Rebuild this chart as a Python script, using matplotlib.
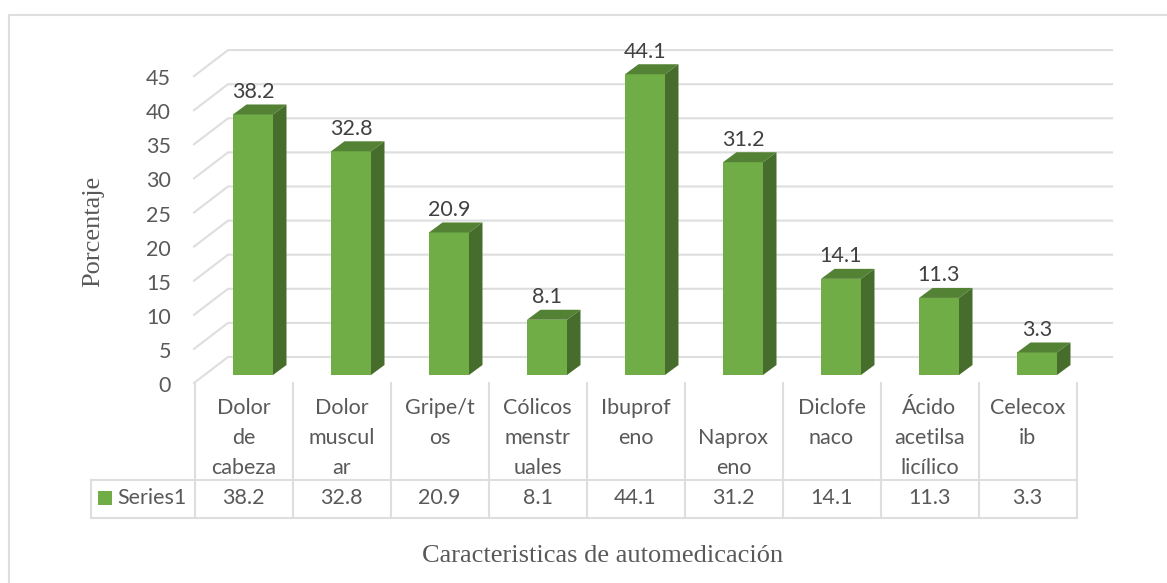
import matplotlib
matplotlib.use("Agg")
import matplotlib.pyplot as plt
from matplotlib.patches import Polygon, Rectangle

categories = [
    "Dolor\nde\ncabeza", "Dolor\nmuscul\nar", "Gripe/t\nos",
    "Cólicos\nmenstr\nuales", "Ibuprof\neno", "\nNaprox\neno",
    "Diclofe\nnaco", "Ácido\nacetilsa\nlicílico", "Celecox\nib",
]
values = [38.2, 32.8, 20.9, 8.1, 44.1, 31.2, 14.1, 11.3, 3.3]
y_ticks = [0, 5, 10, 15, 20, 25, 30, 35, 40, 45]
series_name = "Series1"
x_title = "Caracteristicas de automedicación"
y_title = "Porcentaje"

W, H = 1167, 583
STEP = 98.0      # px per category
UNIT = 6.82      # px per percent
X0 = 253.0       # px centre of first bar
Y0 = 375.0       # px of bar base

GRID = "#dedede"
TEXT = "#595959"
DARK = "#404040"
FRONT = "#70ad47"
TOP = "#548235"
SIDE = "#476d2c"
SANS = "Lato"
SERIF = "Liberation Serif"
FS = 15.5


def dx(px):
    return px / STEP


def dy(px):
    return px / UNIT


def to_x(px):
    return (px - X0) / STEP


def to_y(py):
    return (Y0 - py) / UNIT


fig = plt.figure(figsize=(W / 100, H / 100), dpi=100)
ax = fig.add_axes([0, 0, 1, 1])
ax.set_xlim(to_x(0), to_x(W))
ax.set_ylim(to_y(H), to_y(0))
ax.axis("off")

# outer frame, open on the right and bottom
ax.plot([to_x(8.5), to_x(8.5), to_x(1167)],
        [to_y(583), to_y(14.5), to_y(14.5)],
        color=GRID, lw=1.5, solid_capstyle="butt")

# gridlines on the side and back wall
front_left = to_x(194)
back_left = to_x(228)
back_right = to_x(1112)
front_base = to_y(383)
back_base = to_y(357)
for v in y_ticks:
    ax.plot([front_left, back_left, back_right],
            [front_base + v, back_base + v, back_base + v],
            color=GRID, lw=1.5, zorder=1, solid_joinstyle="miter")
    ax.text(to_x(171), front_base + v - dy(3), str(v), ha="right", va="center",
            fontsize=FS, color=TEXT, family=SANS)

# bars
half = dx(20)
off_x = dx(13.5)
off_y = dy(10)
for i, v in enumerate(values):
    l, r = i - half, i + half
    ax.add_patch(Rectangle((l, 0), 2 * half, v, fc=FRONT, ec="none", zorder=3))
    ax.add_patch(Polygon([(l, v), (r, v), (r + off_x, v + off_y), (l + off_x, v + off_y)],
                         fc=TOP, ec="none", zorder=3))
    ax.add_patch(Polygon([(r, 0), (r + off_x, off_y), (r + off_x, v + off_y), (r, v)],
                         fc=SIDE, ec="none", zorder=3))
    ax.text(i, v + dy(22.5), f"{v}", ha="center", va="center",
            fontsize=FS, color=DARK, family=SANS, zorder=4)

# data table
table_left = to_x(90.5)
col_left = to_x(194.5)
table_top = to_y(479.5)
table_bottom = to_y(517.5)
n = len(categories)
col_right = col_left + n
ax.plot([table_left, col_right], [table_top, table_top], color=GRID, lw=1.5)
ax.plot([table_left, col_right], [table_bottom, table_bottom], color=GRID, lw=1.5)
ax.plot([table_left, table_left], [table_top, table_bottom], color=GRID, lw=1.5)
for i in range(n + 1):
    ax.plot([col_left + i, col_left + i], [front_base, table_bottom], color=GRID, lw=1.5)

row_y = to_y(498)
for i, (cat, v) in enumerate(zip(categories, values)):
    cx = col_left + i + 0.5
    for k, line in enumerate(cat.split("\n")):
        ax.text(cx, to_y(408.5 + 29.5 * k), line, ha="center", va="center",
                fontsize=FS, color=TEXT, family=SANS)
    ax.text(cx, row_y, f"{v}", ha="center", va="center", fontsize=FS,
            color=TEXT, family=SANS)

# legend key
ax.add_patch(Rectangle((to_x(98), to_y(505)), dx(14), dy(14), fc=FRONT, ec="none"))
ax.text(to_x(117), row_y, series_name, ha="left", va="center", fontsize=FS,
        color=TEXT, family=SANS)

# axis titles
ax.text(to_x(93), to_y(231), y_title, rotation=90, ha="center", va="center",
        fontsize=19, color=TEXT, family=SERIF)
ax.text(to_x(603), to_y(556), x_title, ha="center", va="center",
        fontsize=19, color=TEXT, family=SERIF)

fig.savefig("out.png", dpi=100)
